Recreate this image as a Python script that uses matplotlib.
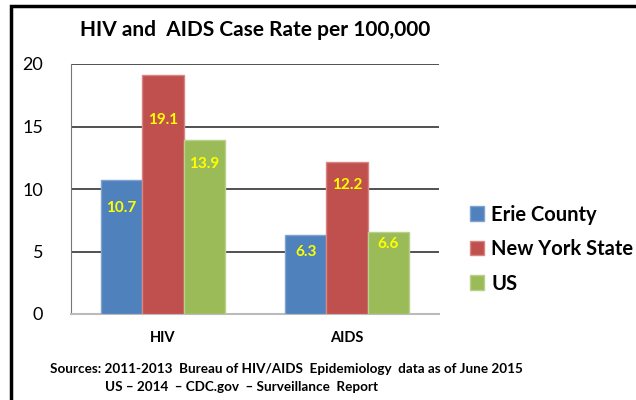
import numpy as np
import matplotlib.pyplot as plt
from matplotlib.patches import Rectangle

plt.rcParams['font.family'] = ['Lato', 'DejaVu Sans']

categories = ['HIV', 'AIDS']
series = ['Erie County', 'New York State', 'US']
erie = [10.7, 6.3]
nys = [19.1, 12.2]
us = [13.9, 6.6]
yticks = [0, 5, 10, 15, 20]

colors = ['#4F81BD', '#C0504D', '#9BBB59']
edges = ['#7fa2d0', '#d98582', '#b8d08a']
# label offsets below the bar top, in points
offsets = [[-20, -32, -17], [-12, -17, -9]]

fig = plt.figure(figsize=(6.36, 4.0), dpi=100)
fig.patches.append(Rectangle((11 / 636, -0.1), 2, 1.1 - 6 / 400, transform=fig.transFigure,
                             fill=False, edgecolor='black', linewidth=2.5))

ax = fig.add_axes([71 / 636, 1 - 314 / 400, 368 / 636, 250 / 400])
x = np.arange(len(categories))
w = 0.225
for i, (vals, c, ec) in enumerate(zip([erie, nys, us], colors, edges)):
    pos = x + (i - 1) * w
    ax.bar(pos, vals, width=w, color=c, edgecolor=ec, linewidth=1, label=series[i], zorder=3)
    for j, v in enumerate(vals):
        ax.annotate(f'{v:.1f}', (pos[j], v), xytext=(0, offsets[j][i]), textcoords='offset points',
                    ha='center', va='center', color='#FFFF00', fontsize=11, fontweight='bold', zorder=4)

ax.set_xlim(-0.5, 1.5)
ax.set_ylim(0, 20)
ax.set_yticks(yticks)
ax.set_yticklabels([str(t) for t in yticks], fontsize=13)
ax.set_xticks(x)
ax.set_xticklabels(categories, fontsize=10.5, fontweight='bold')
ax.tick_params(axis='both', length=0)
ax.tick_params(axis='y', pad=20)
ax.tick_params(axis='x', pad=12)
for t in yticks[1:]:
    ax.axhline(t, color='#333333', linewidth=1.2, zorder=1)
for s in ['top', 'right']:
    ax.spines[s].set_visible(False)
ax.spines['left'].set_color('#777777')
ax.spines['bottom'].set_color('#bbbbbb')
ax.spines['bottom'].set_linewidth(1.5)

fig.text(255 / 636, 1 - 30 / 400, 'HIV and  AIDS Case Rate per 100,000', ha='center', va='center',
         fontsize=15, fontweight='bold')

ax.legend(loc='center left', bbox_to_anchor=(452 / 636, 1 - 249 / 400), bbox_transform=fig.transFigure,
          frameon=False, handlelength=0.7, handleheight=0.7, handletextpad=0.35,
          labelspacing=0.72, prop={'weight': 'bold', 'size': 14.5})

fig.text(50 / 636, 1 - 369 / 400, 'Sources: 2011-2013  Bureau of HIV/AIDS  Epidemiology  data as of June 2015',
         ha='left', va='center', fontsize=9.7, fontweight='bold')
fig.text(105 / 636, 1 - 387 / 400, 'US \u2013 2014  \u2013 CDC.gov  \u2013 Surveillance  Report',
         ha='left', va='center', fontsize=9.7, fontweight='bold')

fig.savefig('out.png', dpi=100)
